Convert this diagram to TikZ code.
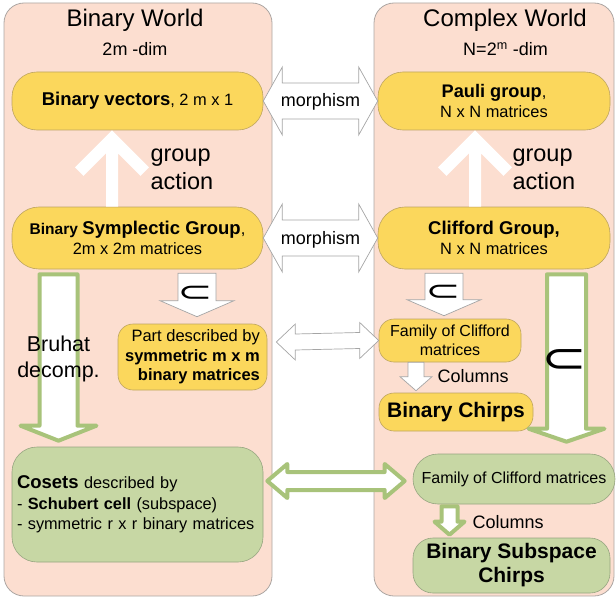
\documentclass[tikz,border=0pt]{standalone}
\usepackage{fontspec}
\setmainfont{Liberation Sans}
\newfontfamily\symfont{DejaVu Sans}
\usepackage{graphicx}
\usetikzlibrary{positioning}

\definecolor{worldfill}{RGB}{252,222,208}
\definecolor{worldline}{RGB}{172,166,163}
\definecolor{yellowfill}{RGB}{251,215,92}
\definecolor{yellowline}{RGB}{190,165,95}
\definecolor{greenfill}{RGB}{199,215,164}
\definecolor{greenline}{RGB}{150,165,128}
\definecolor{arrowgreen}{RGB}{168,195,122}
\definecolor{arrowgray}{RGB}{165,165,165}

\newcommand{\blockup}[3]{\fill[#1] ([shift={(-6,0)}]#2) -- ([shift={(-6,23)}]#3) -- ([shift={(-28.5,45.5)}]#3) -- ([shift={(-37,37)}]#3) -- (#3) -- ([shift={(37,37)}]#3) -- ([shift={(28.5,45.5)}]#3) -- ([shift={(6,23)}]#3) -- ([shift={(6,0)}]#2) -- cycle;}
\newcommand{\blockdown}[6]{\draw[#1] ([shift={(-#4,0)}]#2) -- ([shift={(-#4,-#6)}]#3) -- ([shift={(-#5,-#6)}]#3) -- (#3) -- ([shift={(#5,-#6)}]#3) -- ([shift={(#4,-#6)}]#3) -- ([shift={(#4,0)}]#2) -- cycle;}
\newcommand{\blockboth}[6]{\draw[#1] (#2) -- ([shift={(#6,-#5)}]#2) -- ([shift={(#6,-#4)}]#2) -- ([shift={(-#6,-#4)}]#3) -- ([shift={(-#6,-#5)}]#3) -- (#3) -- ([shift={(-#6,#5)}]#3) -- ([shift={(-#6,#4)}]#3) -- ([shift={(#6,#4)}]#2) -- ([shift={(#6,#5)}]#2) -- cycle;}

\begin{document}
\begin{tikzpicture}[x=1pt, y=-1pt, font=\fontsize{16.4}{20.5}\selectfont,
  world/.style={draw=worldline, fill=worldfill, rounded corners=20pt, line width=0.8pt, inner sep=0pt},
  ybox/.style={draw=yellowline, fill=yellowfill, rounded corners=#1, line width=0.6pt, align=center, inner sep=0pt},
  gbox/.style={draw=greenline, fill=greenfill, rounded corners=#1, line width=0.6pt, align=center, inner sep=0pt},
  title/.style={font=\fontsize{24}{28}\selectfont},
  dim/.style={font=\fontsize{18}{22}\selectfont},
  lbl/.style={font=\fontsize{18}{22}\selectfont},
  big/.style={font=\fontsize{23.5}{28}\selectfont},
  morph/.style={draw=arrowgray, fill=white, line width=0.7pt, line join=miter},
  greenarrow/.style={draw=arrowgreen, fill=white, line width=4pt, line join=round},
  lift/.style={white}]
\useasboundingbox (0,0) rectangle (616,599);

\node[world, minimum width=268pt, minimum height=593pt] (binworld) at (138,299.5) {};
\node[world, minimum width=240pt, minimum height=593pt] (cxworld) at (494,299.5) {};

\node[title, anchor=base] (bintitle) at (135,27) {Binary World};
\node[dim, anchor=base] (bindim) at (135,56) {2m -dim};
\node[title, anchor=base] (cxtitle) at (505,27) {Complex World};
\node[dim, anchor=base] (cxdim) at (505.5,56) {N=2\textsuperscript{m} -dim};

\node[ybox=25pt, minimum width=251pt, minimum height=58pt] (vec) at (137.5,101)
  {{\bfseries\fontsize{18.5}{22}\selectfont Binary vectors}, 2 m x 1};
\node[ybox=27pt, minimum width=251pt, minimum height=62pt] (sympl) at (137.5,238)
  {{\bfseries\fontsize{15.5}{21}\selectfont Binary} {\bfseries\fontsize{18.5}{21}\selectfont Symplectic Group},\\2m x 2m matrices};
\node[ybox=25pt, minimum width=232pt, minimum height=58pt] (pauli) at (494,101)
  {{\bfseries\fontsize{18.2}{20}\selectfont Pauli group},\\N x N matrices};
\node[ybox=27pt, minimum width=232pt, minimum height=62pt] (cliff) at (494,238)
  {{\bfseries\fontsize{18.5}{20.5}\selectfont Clifford Group,}\\N x N matrices};
\node[ybox=15pt, minimum width=149pt, minimum height=66pt, align=right,
  font=\fontsize{16.5}{19.5}\selectfont] (part) at (192.5,357)
  {Part described by\\\textbf{symmetric m x m}\\\textbf{binary matrices}};
\node[ybox=15pt, minimum width=142pt, minimum height=43pt,
  font=\fontsize{16}{19.5}\selectfont] (fam1) at (450,340.5) {Family of Clifford\\matrices};
\node[ybox=15pt, minimum width=154pt, minimum height=38pt,
  font=\bfseries\fontsize{21}{24}\selectfont] (chirps) at (456,412) {Binary Chirps};
\node[gbox=25pt, text width=241pt, align=left, inner xsep=5pt, minimum height=115pt,
  font=\fontsize{16.3}{20.5}\selectfont] (cosets) at (137.5,504.5)
  {{\bfseries\fontsize{18.5}{20.5}\selectfont Cosets} described by\\- \textbf{Schubert cell} (subspace)\\- symmetric r x r binary matrices};
\node[gbox=25pt, minimum width=202pt, minimum height=50pt,
  font=\fontsize{16}{20}\selectfont] (fam2) at (514,479) {Family of Clifford matrices};
\node[gbox=20pt, minimum width=197pt, minimum height=55pt,
  font=\bfseries\fontsize{21}{24}\selectfont] (subch) at (511.5,565.5) {Binary Subspace\\Chirps};

\coordinate (actLtail) at ([xshift=-25.5pt]sympl.north);
\coordinate (actLtip) at ([xshift=-25.5pt]vec.south);
\coordinate (actRtail) at ([xshift=-19pt]cliff.north);
\coordinate (actRtip) at ([xshift=-19pt]pauli.south);
\blockup{lift}{actLtail}{actLtip}
\blockup{lift}{actRtail}{actRtip}

\blockboth{morph}{vec.east}{pauli.west}{18}{34}{19}
\blockboth{morph}{sympl.east}{cliff.west}{18}{34}{19}
\coordinate (partlink) at ([shift={(9,-15)}]part.east);
\blockboth{morph}{partlink}{fam1.west}{8}{18}{19}
\coordinate (cosetlink) at ([shift={(4,-23.5)}]cosets.east);
\coordinate (famlink) at ([shift={(-8,2)}]fam2.west);
\blockboth{greenarrow}{cosetlink}{famlink}{9}{17}{20}

\coordinate (subLtail) at ([shift={(59.5,4)}]sympl.south);
\coordinate (subLtip) at ([shift={(4.5,-7)}]part.north);
\blockdown{morph}{subLtail}{subLtip}{19}{37}{16}
\coordinate (subRtail) at ([shift={(-50,4)}]cliff.south);
\coordinate (subRtip) at ([shift={(-6,-3)}]fam1.north);
\blockdown{morph}{subRtail}{subRtip}{19}{37}{16}
\coordinate (colAtail) at ([shift={(-34,0)}]fam1.south);
\coordinate (colAtip) at ([shift={(-40,-2)}]chirps.north);
\blockdown{morph}{colAtail}{colAtip}{8}{16}{14}

\coordinate (bruhattail) at ([shift={(-79,5)}]sympl.south);
\coordinate (bruhattip) at ([shift={(-79,-6)}]cosets.north);
\blockdown{greenarrow}{bruhattail}{bruhattip}{19}{38}{15}
\coordinate (bigRtail) at ([shift={(72.5,5)}]cliff.south);
\coordinate (bigRtip) at ([shift={(52.5,-12)}]fam2.north);
\blockdown{greenarrow}{bigRtail}{bigRtip}{19.5}{38}{13}
\coordinate (colBtail) at ([shift={(-64.5,2)}]fam2.south);
\coordinate (colBtip) at ([shift={(-62,-3)}]subch.north);
\blockdown{greenarrow}{colBtail}{colBtip}{8}{15}{13}

\node[lbl, anchor=base] (morphtop) at (320.5,107) {morphism};
\node[lbl, anchor=base] (morphbot) at (320.5,244) {morphism};
\node[big, align=left, anchor=west] (actL) at (147,169) {group\\action};
\node[big, align=left, anchor=west] (actR) at (509,169) {group\\action};
\node[font=\fontsize{21.5}{26}\selectfont, align=center] (bruhat) at (58.5,359) {Bruhat\\decomp.};
\node[lbl, anchor=base west] (colsA) at (434,382) {Columns};
\node[lbl, anchor=base west] (colsB) at (469,528) {Columns};
\node[font=\symfont\fontsize{28}{28}\selectfont] (subL) at (195,294) {\scalebox{1.5}[1]{⊂}};
\node[font=\symfont\fontsize{28}{28}\selectfont] (subR) at (443,293) {\scalebox{1.5}[1]{⊂}};
\node[font=\symfont\fontsize{42}{42}\selectfont] (subbig) at (564,361) {\scalebox{1.3}[1]{⊂}};
\end{tikzpicture}
\end{document}
